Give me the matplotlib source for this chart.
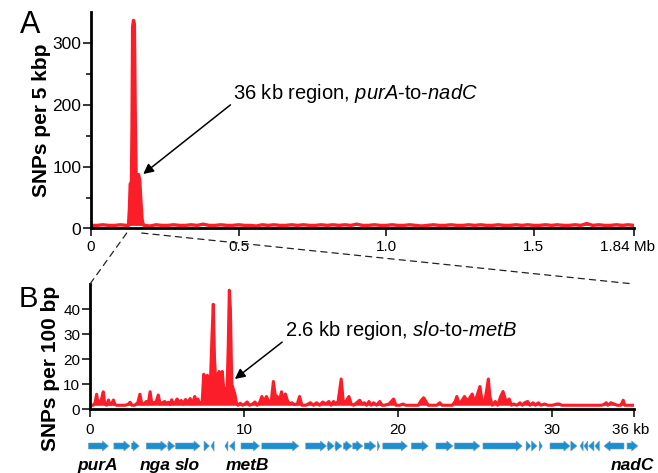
import matplotlib
matplotlib.use("Agg")
import matplotlib.pyplot as plt
from matplotlib.patches import ConnectionPatch, FancyArrow
from matplotlib.transforms import blended_transform_factory, ScaledTranslation

plt.rcParams['font.family'] = ['Liberation Sans', 'DejaVu Sans']
plt.rcParams['mathtext.fontset'] = 'custom'
plt.rcParams['mathtext.rm'] = 'Liberation Sans'
plt.rcParams['mathtext.it'] = 'Liberation Sans:italic'
plt.rcParams['mathtext.bf'] = 'Liberation Sans:bold'

# ---------------- Panel A data: SNPs per 5 kbp along genome (Mb) ----------------
a_mb = [0.00, 0.02, 0.04, 0.06, 0.08, 0.10, 0.12, 0.127,
        0.130, 0.133, 0.137, 0.139, 0.141, 0.144, 0.147, 0.150, 0.153, 0.157,
        0.161, 0.165, 0.169, 0.173, 0.177,
        0.18, 0.20, 0.22, 0.24, 0.26, 0.28, 0.30, 0.32, 0.34, 0.36, 0.38, 0.40,
        0.42, 0.44, 0.46, 0.48, 0.50, 0.52, 0.54, 0.56, 0.58, 0.60, 0.62, 0.64,
        0.66, 0.68, 0.70, 0.72, 0.74, 0.76, 0.78, 0.80, 0.82, 0.84, 0.86, 0.88,
        0.90, 0.92, 0.94, 0.96, 0.98, 1.00, 1.02, 1.04, 1.06, 1.08, 1.10, 1.12,
        1.14, 1.16, 1.18, 1.20, 1.22, 1.24, 1.26, 1.28, 1.30, 1.32, 1.34, 1.36,
        1.38, 1.40, 1.42, 1.44, 1.46, 1.48, 1.50, 1.52, 1.54, 1.56, 1.58, 1.60,
        1.62, 1.64, 1.66, 1.68, 1.70, 1.72, 1.74, 1.76, 1.78, 1.80, 1.82, 1.84]
a_snps = [5, 5, 6, 5, 5, 6, 5, 5,
          30, 72, 75, 160, 325, 336, 330, 180, 80, 84,
          87, 78, 45, 15, 6,
          5, 4, 6, 5, 5, 6, 5, 5, 6, 5, 7, 5,
          5, 6, 5, 5, 6, 5, 5, 4, 6, 5, 6, 5,
          5, 6, 5, 6, 5, 5, 6, 5, 6, 5, 6, 5,
          7, 5, 5, 6, 5, 5, 6, 5, 5, 6, 5, 4,
          5, 6, 5, 5, 6, 5, 5, 6, 5, 6, 5, 5,
          6, 5, 5, 6, 5, 6, 5, 5, 6, 5, 6, 5,
          5, 6, 5, 8, 5, 6, 5, 5, 6, 5, 6, 5]
a_ticks = [0, 0.5, 1.0, 1.5, 1.84]
a_ticklabels = ['0', '0.5', '1.0', '1.5', '1.84 Mb']

# ---------------- Panel B data: SNPs per 100 bp along 36 kb region (kb) ----------------
b_kb = [0.0, 0.2, 0.33, 0.43, 0.53, 0.65, 0.77, 0.86, 0.96, 1.08, 1.2, 1.3, 1.4,
        1.52, 1.62, 1.72, 1.85, 2.05, 2.3, 2.5, 2.6, 2.72, 2.9, 3.1, 3.24, 3.36,
        3.5, 3.65, 3.78, 3.9, 4.02, 4.15, 4.3, 4.43, 4.55, 4.7, 4.85, 4.95, 5.07,
        5.2, 5.3, 5.4, 5.52, 5.65, 5.8, 5.92, 6.05, 6.2, 6.35, 6.5, 6.62, 6.72,
        6.8, 6.9, 7.0, 7.1, 7.2, 7.28, 7.38, 7.5, 7.62, 7.72, 7.82, 7.92, 8.0,
        8.08, 8.18, 8.28, 8.38, 8.48, 8.58, 8.68, 8.8, 8.9, 8.97, 9.04, 9.11,
        9.2, 9.3, 9.4, 9.5, 9.6, 9.75, 9.9, 10.05, 10.2, 10.35, 10.55, 10.7,
        10.85, 11.0, 11.15, 11.3, 11.45, 11.6, 11.75, 11.9, 12.02, 12.15, 12.3,
        12.43, 12.55, 12.68, 12.8, 12.95, 13.1, 13.25, 13.45, 13.6, 13.75, 14.0,
        14.3, 14.5, 14.7, 14.9, 15.1, 15.3, 15.5, 15.65, 15.8, 15.95, 16.1, 16.3,
        16.45, 16.6, 16.8, 16.95, 17.1, 17.3, 17.5, 17.65, 17.8, 17.95, 18.1,
        18.25, 18.4, 18.6, 18.8, 18.95, 19.1, 19.4, 19.7, 19.85, 20.1, 20.3,
        20.5, 21.3, 21.5, 21.65, 21.8, 21.95, 22.2, 22.5, 22.7, 22.85, 23.2,
        23.5, 23.7, 23.8, 23.95, 24.1, 24.3, 24.45, 24.6, 24.8, 24.95, 25.1,
        25.3, 25.45, 25.6, 25.75, 25.85, 25.95, 26.1, 26.3, 26.45, 26.65, 26.8,
        26.95, 27.1, 27.2, 27.35, 27.5, 27.7, 27.9, 28.05, 28.2, 28.4, 28.55,
        28.75, 28.9, 29.1, 29.25, 29.5, 29.7, 30.0, 30.3, 30.45, 30.6, 33.2,
        33.4, 33.5, 33.6, 33.8, 34.0, 34.2, 34.45, 34.6, 34.7, 35.3]
b_snps = [1.5, 1.5, 2.5, 5.9, 2.0, 2.5, 4.5, 6.9, 2.0, 1.5, 3.6, 1.8, 2.0,
          3.6, 1.8, 1.5, 1.5, 1.5, 1.5, 2.0, 2.7, 1.5, 1.5, 2.5, 5.9, 2.0,
          2.0, 3.0, 2.0, 6.9, 2.0, 2.5, 3.0, 5.6, 2.0, 2.5, 3.0, 2.0, 2.7,
          1.8, 3.7, 2.0, 2.5, 4.0, 2.5, 3.4, 2.0, 3.8, 2.5, 4.2, 2.0, 3.5,
          5.0, 2.5, 4.0, 2.5, 2.5, 3.0, 13.9, 12.0, 13.5, 10.0, 12.0, 30.0, 41.9,
          20.0, 9.0, 13.0, 15.0, 10.0, 15.0, 8.0, 7.0, 9.0, 25.0, 47.5, 40.0,
          10.0, 8.0, 6.0, 2.5, 1.5, 2.3, 1.5, 2.0, 2.8, 1.5, 2.0, 2.8,
          1.5, 2.5, 5.0, 3.0, 5.0, 3.0, 2.5, 11.0, 5.5, 5.0, 3.5,
          6.9, 3.0, 6.0, 3.5, 2.0, 2.5, 1.8, 2.0, 5.0, 1.5, 1.5,
          2.5, 1.5, 2.5, 1.5, 2.8, 2.0, 3.0, 1.5, 3.0, 2.0, 3.0, 12.0,
          2.0, 3.0, 5.0, 2.0, 1.5, 2.5, 3.5, 2.0, 2.5, 1.5, 3.0,
          1.5, 2.5, 1.5, 3.0, 1.5, 1.5, 2.0, 4.0, 1.5, 1.5, 2.0,
          1.5, 1.5, 3.5, 4.5, 3.0, 1.5, 1.5, 1.5, 2.5, 1.5, 1.5,
          1.5, 3.0, 5.0, 2.5, 3.0, 5.0, 3.5, 4.0, 6.0, 3.0, 5.0,
          9.0, 3.0, 2.5, 8.0, 12.0, 5.0, 1.5, 3.0, 1.5, 5.0, 7.0,
          4.0, 3.0, 4.0, 1.5, 2.0, 1.5, 2.5, 1.5, 2.5, 3.0, 1.5,
          2.5, 1.5, 2.5, 1.5, 2.0, 1.5, 1.5, 2.0, 2.0, 1.5, 1.5,
          2.0, 2.5, 1.5, 2.5, 2.0, 1.5, 1.5, 3.5, 1.5, 1.5]
b_ticks = [0, 10, 20, 30, 35.3]
b_ticklabels = ['0', '10', '20', '30', '36 kb']

# ---------------- Genes in the 36 kb region (kb, strand) ----------------
gene_start = [-0.1, 1.55, 2.7, 3.65, 5.05, 5.55, 7.4, 7.85, 8.75, 9.05, 9.8,
              11.15, 14.0, 15.4, 15.9, 16.45, 17.05, 17.8, 18.65, 19.0, 20.85,
              22.45, 23.65, 25.5, 28.3, 28.65, 29.15, 29.85, 31.2, 31.8, 32.05,
              32.35, 32.75, 33.35, 34.85]
gene_end = [1.2, 2.6, 3.2, 5.0, 5.5, 7.15, 7.75, 8.05, 8.95, 9.4, 11.0,
            13.55, 15.35, 15.85, 16.35, 17.0, 17.7, 18.55, 18.8, 20.6, 21.95,
            23.55, 25.3, 28.05, 28.6, 29.0, 29.35, 31.15, 31.6, 32.0, 32.3,
            32.7, 33.05, 34.65, 35.55]
gene_strand = [1, 1, 1, 1, 1, 1, 1, -1, -1, -1, 1,
               1, 1, 1, 1, 1, 1, 1, 1, 1, 1,
               1, 1, 1, 1, 1, 1, 1, 1, -1, -1,
               -1, -1, -1, 1]
gene_names = ['purA', 'nga', 'slo', 'metB', 'nadC']
gene_name_pos = [0.5, 4.2, 6.35, 10.2, 35.2]

RED = '#fb1d27'
BLUE = '#1b8fcf'
W, H = 658, 473

fig = plt.figure(figsize=(W / 100, H / 100), dpi=100)

def style_axes(ax):
    for s in ['top', 'right']:
        ax.spines[s].set_visible(False)
    for s in ['left', 'bottom']:
        ax.spines[s].set_linewidth(2.0)
    ax.tick_params(axis='both', which='major', length=5.5, width=1.1,
                   labelsize=11, direction='out')
    ax.tick_params(axis='y', which='major', pad=1.5)

# ---- Panel A ----
axA = fig.add_axes([91 / W, 1 - 228.5 / H, 543 / W, 216.8 / H])
axA.plot(a_mb, a_snps, color=RED, lw=2.4, solid_joinstyle='round')
axA.fill_between(a_mb, 5, a_snps, color=RED, lw=0)
axA.set_xlim(0, 1.84)
axA.set_ylim(0, 350)
style_axes(axA)
axA.set_yticks([0, 100, 200, 300])
axA.set_yticks([50, 150, 250], minor=True)
axA.tick_params(axis='y', which='major', labelsize=12.5)
axA.tick_params(axis='y', which='minor', length=3.5, width=1.1)
axA.set_xticks(a_ticks)
axA.set_xticklabels(a_ticklabels)
axA.tick_params(axis='x', pad=3)
lab = axA.get_xticklabels()[-1]
lab.set_transform(lab.get_transform() + ScaledTranslation(-6 / 100, 0, fig.dpi_scale_trans))

axA.annotate('36 kb region, $\\it{purA}$-to-$\\it{nadC}$', xy=(0.177, 88),
             xytext=(0.482, 218), fontsize=14.5, ha='left', va='center',
             arrowprops=dict(arrowstyle='-|>', color='black', lw=1.1,
                             mutation_scale=15, shrinkA=0, shrinkB=0,
                             relpos=(0, 0.1)))

# ---- Panel B ----
axB = fig.add_axes([90 / W, 1 - 409 / H, 544 / W, 125 / H])
axB.fill_between(b_kb, 1.5, b_snps, color=RED, lw=0)
axB.plot(b_kb, b_snps, color=RED, lw=2.2, solid_joinstyle='round')
axB.set_xlim(0, 35.3)
axB.set_ylim(0, 50)
style_axes(axB)
axB.set_yticks([0, 10, 20, 30, 40])
axB.set_xticks(b_ticks)
axB.set_xticklabels(b_ticklabels)
axB.tick_params(axis='x', pad=4.5)
lab = axB.get_xticklabels()[-1]
lab.set_transform(lab.get_transform() + ScaledTranslation(-3 / 100, 0, fig.dpi_scale_trans))

axB.annotate('2.6 kb region, $\\it{slo}$-to-$\\it{metB}$', xy=(9.4, 12),
             xytext=(12.65, 31.3), fontsize=14.5, ha='left', va='center',
             arrowprops=dict(arrowstyle='-|>', color='black', lw=1.1,
                             mutation_scale=15, shrinkA=0, shrinkB=0,
                             relpos=(0, 0.1)))

# ---- Genes ----
axG = fig.add_axes([90 / W, 1 - 456 / H, 544 / W, 20 / H])
axG.set_xlim(0, 35.3)
axG.set_ylim(-1, 1)
axG.axis('off')
for s, e, d in zip(gene_start, gene_end, gene_strand):
    length = e - s
    hl = min(0.4, length)
    x0 = s if d > 0 else e
    arr = FancyArrow(x0, 0, d * length, 0, width=0.6, head_width=1.0,
                     head_length=hl, length_includes_head=True,
                     fc=BLUE, ec='#6d9ec0', lw=0.4, clip_on=False)
    axG.add_patch(arr)
for name, x in zip(gene_names, gene_name_pos):
    axG.text(x, -1.9, name, ha='center', va='center', fontsize=12.5,
             fontweight='bold', fontstyle='italic', clip_on=False)

# ---- Zoom connector lines ----
trA = blended_transform_factory(axA.transData, axA.transAxes)
for xa, xb in [(0.121, 0.0), (0.172, 1.0)]:
    con = ConnectionPatch(xyA=(xa, -0.021), coordsA=trA, xyB=(xb, 1.0),
                          coordsB=axB.transAxes, linestyle=(0, (5, 4)),
                          color='#222222', lw=0.9)
    fig.add_artist(con)

# ---- Axis labels and panel letters ----
fig.text(41.7 / W, 1 - 120 / H, 'SNPs per 5 kbp', rotation=90, ha='center',
         va='center', fontsize=15, fontweight='bold')
fig.text(51 / W, 1 - 368.5 / H, 'SNPs per 100 bp', rotation=90, ha='center',
         va='center', fontsize=15, fontweight='bold')
fig.text(30 / W, 1 - 25 / H, 'A', ha='center', va='center', fontsize=22)
fig.text(28 / W, 1 - 299 / H, 'B', ha='center', va='center', fontsize=21)

fig.savefig('out.png', dpi=100)
